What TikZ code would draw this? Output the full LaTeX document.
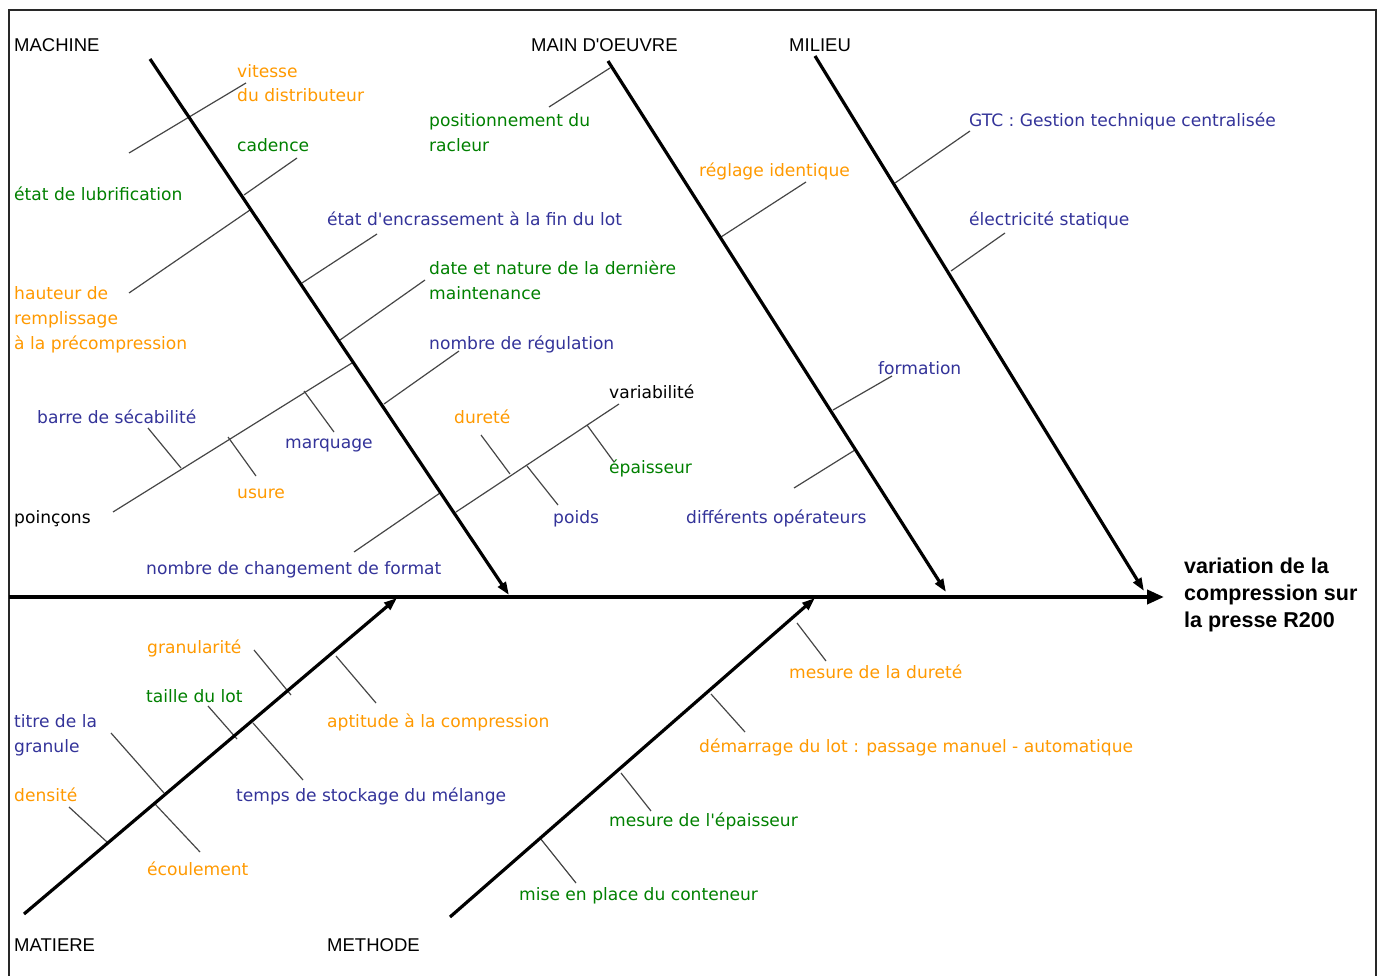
\documentclass[tikz,border=0pt]{standalone}
\usepackage{fontspec}
\setmainfont[Ligatures=TeXOff]{DejaVu Sans}
\newfontfamily\arialfont[Ligatures=TeXOff]{Liberation Sans}
\usetikzlibrary{arrows.meta}
\definecolor{corange}{RGB}{255,153,0}
\definecolor{cgreen}{RGB}{0,128,0}
\definecolor{cblue}{RGB}{51,51,153}
\definecolor{ribgray}{RGB}{70,70,70}
\definecolor{framegray}{RGB}{40,40,40}
\newcommand{\lblfont}{\fontsize{17.1}{20}\selectfont}
\newcommand{\hdrfont}{\arialfont\fontsize{18.5}{22}\selectfont}
\newcommand{\ttlfont}{\arialfont\bfseries\fontsize{21.5}{27}\selectfont}
\begin{document}
\begin{tikzpicture}[x=1pt,y=-1pt,
  bone/.style={line width=3.2pt,black,-{Triangle[length=13pt,width=9pt]}},
  spine/.style={line width=4pt,black,-{Triangle[length=17pt,width=14pt]}},
  rib/.style={line width=1.2pt,ribgray},
  lbl/.style={font=\lblfont,anchor=base west,inner sep=0pt},
  hdr/.style={font=\hdrfont,anchor=base west,inner sep=0pt},
  orn/.style={lbl,text=corange},
  grn/.style={lbl,text=cgreen},
  blu/.style={lbl,text=cblue},
  blk/.style={lbl,text=black}]
\useasboundingbox (0,0) rectangle (1382,976);
\draw[line width=2pt,framegray] (9,976) -- (9,10) -- (1376,10) -- (1376,976);

% ---------- coordinates ----------
\coordinate (spS) at (9,597);
\coordinate (spE) at (1164,597);
\coordinate (maS) at (150,59);   \coordinate (maE) at (509,595);
\coordinate (moS) at (608,61);   \coordinate (moE) at (946,592);
\coordinate (miS) at (815,56);   \coordinate (miE) at (1144,591);
\coordinate (mtS) at (24,914);   \coordinate (mtE) at (397,598);
\coordinate (meS) at (450,917);  \coordinate (meE) at (815,598);

% ribs machine
\coordinate (r1a) at (129,153);  \coordinate (r1b) at (246,83);
\coordinate (r2a) at (244,195);  \coordinate (r2b) at (297,158);
\coordinate (r3a) at (129,293);  \coordinate (r3b) at (250,210);
\coordinate (r4a) at (302,283);  \coordinate (r4b) at (377,234);
\coordinate (r5a) at (340,340);  \coordinate (r5b) at (425,280);
\coordinate (r6a) at (384,404);  \coordinate (r6b) at (459,351);
\coordinate (r7a) at (113,512);  \coordinate (r7b) at (352,363);
\coordinate (r8a) at (354,552);  \coordinate (r8b) at (440,493);
\coordinate (r9a) at (456,512);  \coordinate (r9b) at (619,404);
% ticks poinçons
\coordinate (t1a) at (148,428);  \coordinate (t1b) at (181,468);
\coordinate (t2a) at (228,437);  \coordinate (t2b) at (256,476);
\coordinate (t3a) at (304,391);  \coordinate (t3b) at (334,432);
% ticks variabilité
\coordinate (t4a) at (481,435);  \coordinate (t4b) at (510,474);
\coordinate (t5a) at (527,466);  \coordinate (t5b) at (558,505);
\coordinate (t6a) at (587,425);  \coordinate (t6b) at (614,462);
% ribs main d'oeuvre
\coordinate (r10a) at (549,107); \coordinate (r10b) at (610,68);
\coordinate (r11a) at (721,237); \coordinate (r11b) at (806,182);
\coordinate (r12a) at (833,410); \coordinate (r12b) at (892,376);
\coordinate (r13a) at (794,488); \coordinate (r13b) at (855,450);
% ribs milieu
\coordinate (r14a) at (895,183); \coordinate (r14b) at (970,131);
\coordinate (r15a) at (951,271); \coordinate (r15b) at (1005,233);
% ribs matiere
\coordinate (m1a) at (254,650);  \coordinate (m1b) at (291,695);
\coordinate (m2a) at (336,656);  \coordinate (m2b) at (376,703);
\coordinate (m3a) at (208,706);  \coordinate (m3b) at (237,739);
\coordinate (m4a) at (253,723);  \coordinate (m4b) at (303,780);
\coordinate (m5a) at (111,733);  \coordinate (m5b) at (164,793);
\coordinate (m6a) at (69,807);   \coordinate (m6b) at (107,842);
\coordinate (m7a) at (155,804);  \coordinate (m7b) at (200,852);
% ribs methode
\coordinate (e1a) at (797,623);  \coordinate (e1b) at (826,661);
\coordinate (e2a) at (711,694);  \coordinate (e2b) at (745,732);
\coordinate (e3a) at (621,773);  \coordinate (e3b) at (651,811);
\coordinate (e4a) at (540,838);  \coordinate (e4b) at (576,883);

% ---------- thin ribs ----------
\foreach \p in {r1,r2,r3,r4,r5,r6,r7,r8,r9,t1,t2,t3,t4,t5,t6,r10,r11,r12,r13,r14,r15,m1,m2,m3,m4,m5,m6,m7,e1,e2,e3,e4}
  \draw[rib] (\p a) -- (\p b);

% ---------- bones ----------
\draw[spine] (spS) -- (spE);
\draw[bone] (maS) -- (maE);
\draw[bone] (moS) -- (moE);
\draw[bone] (miS) -- (miE);
\draw[bone] (mtS) -- (mtE);
\draw[bone] (meS) -- (meE);

% ---------- headers ----------
\node[hdr] (hMa) at (14,52) {MACHINE};
\node[hdr] (hMo) at (531,52) {MAIN D'OEUVRE};
\node[hdr] (hMi) at (789,52) {MILIEU};
\node[hdr] (hMt) at (14,951) {MATIERE};
\node[hdr] (hMe) at (327,951) {METHODE};

% ---------- effect ----------
\node[font=\ttlfont,anchor=north west,inner sep=0pt,align=left] (eff) at (1184,558)
  {variation de la\\compression sur\\la presse R200};

% ---------- labels ----------
\node[orn] (l1) at (237,78) {vitesse};
\node[orn] (l1b) at (237,102) {du distributeur};
\node[grn] (l2) at (237,152) {cadence};
\node[grn] (l3) at (14,201) {état de lubrification};
\node[orn] (l4) at (14,300) {hauteur de};
\node[orn] (l4b) at (14,325) {remplissage};
\node[orn] (l4c) at (14,350) {à la précompression};
\node[grn] (l5) at (429,127) {positionnement du};
\node[grn] (l5b) at (429,152) {racleur};
\node[blu] (l6) at (327,226) {état d'encrassement à la fin du lot};
\node[grn] (l7) at (429,275) {date et nature de la dernière};
\node[grn] (l7b) at (429,300) {maintenance};
\node[blu] (l8) at (429,350) {nombre de régulation};
\node[orn] (l9) at (699,177) {réglage identique};
\node[blu] (l10) at (969,127) {GTC : Gestion technique centralisée};
\node[blu] (l11) at (969,226) {électricité statique};
\node[blu] (l12) at (878,374) {formation};
\node[blk] (l13) at (609,399) {variabilité};
\node[blu] (l14) at (37,423) {barre de sécabilité};
\node[blu] (l15) at (285,448) {marquage};
\node[orn] (l16) at (454,423) {dureté};
\node[grn] (l17) at (609,473) {épaisseur};
\node[orn] (l18) at (237,498) {usure};
\node[blk] (l19) at (14,523) {poinçons};
\node[blu] (l20) at (553,523) {poids};
\node[blu] (l21) at (686,523) {différents opérateurs};
\node[blu] (l22) at (146,574) {nombre de changement de format};
\node[orn] (l23) at (147,653) {granularité};
\node[grn] (l24) at (146,702) {taille du lot};
\node[blu] (l25) at (14,727) {titre de la};
\node[blu] (l25b) at (14,752) {granule};
\node[orn] (l26) at (327,727) {aptitude à la compression};
\node[orn] (l27) at (14,801) {densité};
\node[blu] (l28) at (236,801) {temps de stockage du mélange};
\node[orn] (l29) at (147,875) {écoulement};
\node[orn] (l30) at (789,678) {mesure de la dureté};
\node[orn] (l31) at (699,752) {démarrage du lot : passage manuel - automatique};
\node[grn] (l32) at (609,826) {mesure de l'épaisseur};
\node[grn] (l33) at (519,900) {mise en place du conteneur};
\end{tikzpicture}
\end{document}
